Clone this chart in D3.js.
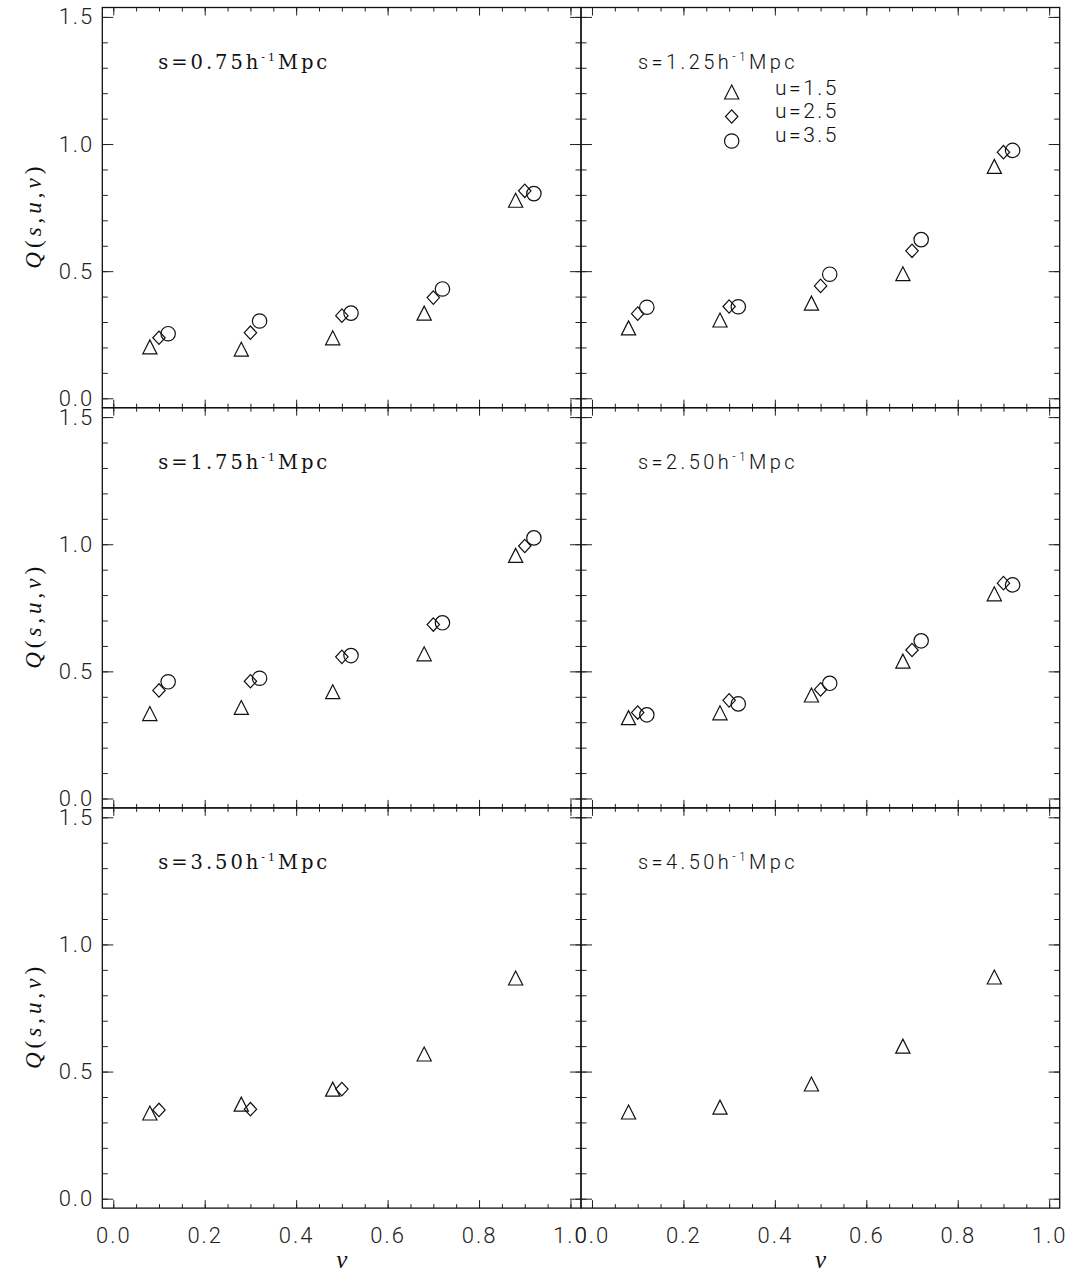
<!DOCTYPE html>
<html>
<head>
<meta charset="utf-8">
<script src="https://cdn.jsdelivr.net/npm/d3@7"></script>
<style>
  body { margin: 0; background: #fff; }
  svg { display: block; }
</style>
</head>
<body>
<svg id="chart" width="1071" height="1276"></svg>
<script>
// Reduced three-point correlation Q(s,u,v) versus v, one panel per separation s.
const sValues = ["0.75", "1.25", "1.75", "2.50", "3.50", "4.50"];
const uLabels = ["u=1.5", "u=2.5", "u=3.5"];

// v positions of each u series (slightly staggered around 0.1, 0.3, ..., 0.9)
const vU15 = [0.08, 0.28, 0.48, 0.68, 0.88];
const vU25 = [0.10, 0.30, 0.50, 0.70, 0.90];
const vU35 = [0.12, 0.32, 0.52, 0.72, 0.92];

// Q values, one row per panel (null = not measured)
const qU15 = [
  [0.202, 0.193, 0.238, 0.335, 0.779],
  [0.277, 0.308, 0.374, 0.490, 0.912],
  [0.334, 0.358, 0.420, 0.569, 0.956],
  [0.318, 0.337, 0.407, 0.540, 0.805],
  [0.337, 0.372, 0.431, 0.569, 0.868],
  [0.341, 0.360, 0.451, 0.600, 0.872]
];
const qU25 = [
  [0.238, 0.258, 0.325, 0.396, 0.816],
  [0.333, 0.361, 0.442, 0.580, 0.968],
  [0.425, 0.461, 0.557, 0.684, 0.993],
  [0.338, 0.386, 0.429, 0.584, 0.847],
  [0.349, 0.352, 0.431, null, null],
  [null, null, null, null, null]
];
const qU35 = [
  [0.254, 0.304, 0.335, 0.430, 0.805],
  [0.358, 0.360, 0.488, 0.624, 0.975],
  [0.459, 0.473, 0.562, 0.691, 1.025],
  [0.329, 0.372, 0.453, 0.620, 0.840],
  [null, null, null, null, null],
  [null, null, null, null, null]
];

const xMajor = [0, 0.2, 0.4, 0.6, 0.8, 1.0];
const xMinor = d3.range(0, 21).map(i => i * 0.05);
const yMajor = [0, 0.5, 1.0, 1.5];
const yMinor = d3.range(0, 16).map(i => i * 0.1);

// ---- layout ----
const colX = [102.3, 581];
const rowY = [7.5, 407.7, 807.9];
const panelW = 478.7, panelH = 400.2;

const x = d3.scaleLinear().domain([-0.024, 1.023]).range([0, panelW]);
const y = d3.scaleLinear().domain([-0.037, 1.537]).range([panelH, 0]);

const svg = d3.select("#chart");
const INK = "#111";
const TICKFONT = "Roboto, 'DejaVu Sans', sans-serif";

const shapes = {
  triangle: "M-7.1,7L0,-7L7.1,7Z",
  diamond: "M0,-6.7L6.2,0L0,6.7L-6.2,0Z"
};

function drawMarker(g, kind, cx, cy) {
  if (kind === "circle") {
    g.append("circle").attr("cx", cx).attr("cy", cy).attr("r", 7.2)
      .attr("fill", "none").attr("stroke", INK).attr("stroke-width", 1.2);
  } else {
    g.append("path").attr("d", shapes[kind])
      .attr("transform", `translate(${cx},${cy})`)
      .attr("fill", "none").attr("stroke", INK).attr("stroke-width", 1.2)
      .attr("stroke-linejoin", "miter");
  }
}

function styleAxis(sel) {
  sel.select(".domain").remove();
  sel.selectAll("line").attr("stroke", "#222").attr("stroke-width", 1);
  sel.selectAll("text")
    .attr("font-family", TICKFONT)
    .attr("font-weight", 300)
    .attr("font-size", 22)
    .attr("letter-spacing", 2)
    .attr("fill", "#222");
}

// fit a text element to a target width by adjusting letter spacing
function fitWidth(t, target) {
  const n = t.text().length;
  const w = t.node().getBBox().width;
  t.attr("letter-spacing", (target - w) / n);
}

sValues.forEach((s, i) => {
  const col = i % 2, row = Math.floor(i / 2);
  const g = svg.append("g").attr("transform", `translate(${colX[col]},${rowY[row]})`);

  // ticks: major and minor on all four sides, pointing inward
  const fmt = d3.format(".1f");
  g.append("g").attr("transform", `translate(0,${panelH})`)
    .call(d3.axisBottom(x).tickValues(xMinor).tickSize(-4).tickFormat(""))
    .call(styleAxis);
  g.append("g").attr("transform", `translate(0,${panelH})`)
    .call(d3.axisBottom(x).tickValues(xMajor).tickSizeInner(-8).tickSizeOuter(0)
      .tickPadding(19).tickFormat(row === 2 ? fmt : () => ""))
    .call(styleAxis);
  g.append("g")
    .call(d3.axisTop(x).tickValues(xMinor).tickSize(-4).tickFormat(""))
    .call(styleAxis);
  g.append("g")
    .call(d3.axisTop(x).tickValues(xMajor).tickSize(-8).tickFormat(""))
    .call(styleAxis);

  g.append("g")
    .call(d3.axisLeft(y).tickValues(yMinor).tickSize(-5.5).tickFormat(""))
    .call(styleAxis);
  g.append("g")
    .call(d3.axisLeft(y).tickValues(yMajor).tickSizeInner(-11).tickSizeOuter(0)
      .tickPadding(8).tickFormat(col === 0 ? fmt : () => ""))
    .call(styleAxis);
  g.append("g").attr("transform", `translate(${panelW},0)`)
    .call(d3.axisRight(y).tickValues(yMinor).tickSize(-5.5).tickFormat(""))
    .call(styleAxis);
  g.append("g").attr("transform", `translate(${panelW},0)`)
    .call(d3.axisRight(y).tickValues(yMajor).tickSize(-11).tickFormat(""))
    .call(styleAxis);

  // frame
  g.append("rect").attr("width", panelW).attr("height", panelH)
    .attr("fill", "none").attr("stroke", INK).attr("stroke-width", 1.3);

  // separation label
  const serif = col === 0;
  const lab = g.append("text")
    .attr("x", serif ? 56 : 57).attr("y", 61)
    .attr("font-family", serif ? "'DejaVu Serif', 'Liberation Serif', serif" : "Roboto, 'DejaVu Sans', sans-serif")
    .attr("font-weight", serif ? 400 : 300)
    .attr("font-size", serif ? 19.5 : 20)
    .attr("fill", INK);
  lab.append("tspan").text(`s=${s}h`);
  lab.append("tspan").attr("dy", -8).attr("font-size", serif ? 11 : 12).text("-1");
  lab.append("tspan").attr("dy", 8).text("Mpc");
  fitWidth(lab, serif ? 172 : 160);

  // data points
  const pts = g.append("g");
  [[vU15, qU15, "triangle"], [vU25, qU25, "diamond"], [vU35, qU35, "circle"]]
    .forEach(([vs, qs, kind]) => {
      qs[i].forEach((q, j) => {
        if (q !== null) drawMarker(pts, kind, x(vs[j]), y(q));
      });
    });

  // legend in the second panel
  if (i === 1) {
    const kinds = ["triangle", "diamond", "circle"];
    uLabels.forEach((u, k) => {
      drawMarker(g, kinds[k], 150.7, 84.5 + 24.5 * k);
      g.append("text").attr("x", 194).attr("y", 87 + 23.5 * k)
        .attr("font-family", TICKFONT).attr("font-weight", 300)
        .attr("font-size", 21).attr("letter-spacing", 2.5).attr("fill", INK)
        .text(u);
    });
  }

  // y-axis title
  if (col === 0) {
    const yt = svg.append("text")
      .attr("transform", `translate(41,${rowY[row] + panelH / 2 + 8}) rotate(-90)`)
      .attr("text-anchor", "middle")
      .attr("font-family", "'Liberation Serif', 'DejaVu Serif', serif")
      .attr("font-size", 23).attr("fill", INK);
    yt.append("tspan").attr("font-style", "italic").text("Q");
    yt.append("tspan").text("(");
    yt.append("tspan").attr("font-style", "italic").text("s");
    yt.append("tspan").text(",");
    yt.append("tspan").attr("font-style", "italic").text("u");
    yt.append("tspan").text(",");
    yt.append("tspan").attr("font-style", "italic").text("v");
    yt.append("tspan").text(")");
    yt.attr("letter-spacing", 4);
  }

  // x-axis title
  if (row === 2) {
    svg.append("text")
      .attr("x", colX[col] + x(0.5)).attr("y", 1268)
      .attr("text-anchor", "middle")
      .attr("font-family", "'Liberation Serif', 'DejaVu Serif', serif")
      .attr("font-style", "italic").attr("font-size", 25).attr("fill", INK)
      .text("v");
  }
});
</script>
</body>
</html>
